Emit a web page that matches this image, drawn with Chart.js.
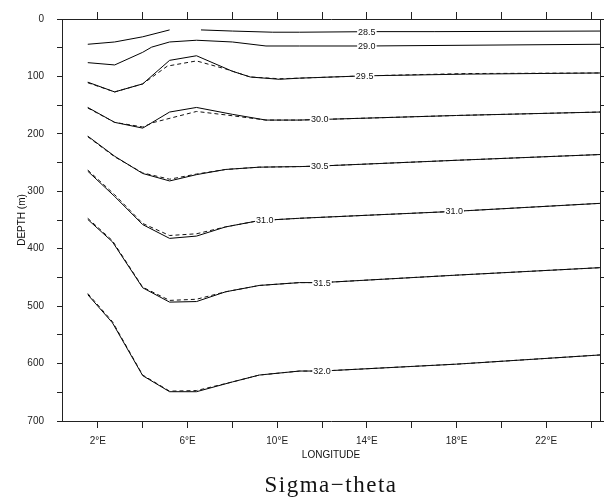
<!DOCTYPE html>
<html>
<head>
<meta charset="utf-8">
<title>Sigma-theta section</title>
<script src="https://cdn.jsdelivr.net/npm/chart.js@4/dist/chart.umd.min.js"></script>
<style>
  html, body { margin: 0; padding: 0; background: #fff; }
  #wrap { width: 604px; height: 497px; }
</style>
</head>
<body>
<div id="wrap"><canvas id="sigmaChart" width="604" height="497"></canvas></div>
<script>
// sigma-theta isopycnals: longitude (deg E) vs depth (m)
const lon285 = [1.55, 2.75, 4.0, 5.2, 5.9, 6.6, 8.0, 9.8, 11.0, 14.3, 17.0, 24.4];
const dep285 = [44, 40, 31, 19, null, 19, 21, 23, 23, 22, 22, 21];

const lon290 = [1.55, 2.75, 4.0, 4.4, 5.2, 6.4, 8.0, 9.5, 11.0, 14.0, 24.4];
const dep290 = [76, 80, 58, 49, 40, 37, 40, 47, 47, 47, 44];

const lon295 = [1.55, 2.75, 4.0, 5.2, 6.4, 8.0, 8.8, 10.1, 11.0, 13.9, 18.4, 24.4];
const dep295 = [110, 127, 113, 72, 64, 91, 101, 105, 103, 99, 96, 94];
const lon295d = [1.55, 2.75, 4.0, 5.1, 6.4, 7.7, 8.8, 10.1, 11.0, 13.9, 18.4, 24.4];
const dep295d = [111, 127, 113, 82, 73, 87, 101, 104, 103, 99, 95, 94];

const lon300 = [1.55, 2.75, 4.0, 5.2, 6.4, 8.0, 9.5, 11.0, 11.9, 18.0, 24.4];
const dep300 = [154, 180, 190, 162, 154, 166, 176, 176, 175, 168, 162];
const lon300d = [1.55, 2.75, 4.0, 4.5, 6.4, 7.7, 9.5, 11.0, 11.9, 18.0, 24.4];
const dep300d = [155, 180, 188, 180, 161, 167, 176, 176, 175, 168, 162];

const lon305 = [1.55, 2.75, 4.0, 5.2, 6.4, 7.7, 9.2, 11.0, 11.9, 18.0, 24.4];
const dep305 = [204, 239, 269, 282, 271, 262, 258, 257, 256, 246, 236];
const dep305d = [205, 240, 268, 279, 270, 262, 258, 257, 256, 246, 236];

const lon310 = [1.55, 2.75, 4.0, 5.2, 6.4, 7.7, 9.2, 11.0, 17.9, 24.4];
const dep310 = [265, 309, 358, 382, 378, 362, 351, 347, 335, 321];
const dep310d = [263, 306, 356, 377, 374, 362, 351, 347, 335, 321];

const lon315 = [1.55, 2.65, 4.0, 5.2, 6.4, 7.7, 9.2, 11.0, 12.0, 18.0, 24.4];
const dep315 = [349, 388, 468, 493, 492, 475, 464, 459, 459, 446, 433];
const dep315d = [347, 386, 467, 490, 488, 475, 464, 459, 459, 446, 433];

const lon320 = [1.55, 2.65, 4.0, 5.2, 6.4, 8.0, 9.2, 11.0, 12.0, 18.0, 24.4];
const dep320 = [480, 529, 621, 649, 649, 632, 620, 613, 613, 601, 585];
const dep320d = [478, 527, 620, 648, 647, 632, 620, 613, 613, 601, 585];

// contour labels: text, which solid line, where along it
const labelText = ['28.5', '29.0', '29.5', '30.0', '30.5', '31.0', '31.0', '31.5', '32.0'];
const labelLine = [0, 1, 2, 3, 4, 5, 5, 6, 7];
const labelLon = [14.0, 14.0, 13.9, 11.9, 11.9, 9.45, 17.9, 12.0, 12.0];

const lonTicks = [2, 4, 6, 8, 10, 12, 14, 16, 18, 20, 22, 24];
const lonLabelled = [2, 6, 10, 14, 18, 22];
const depthTicks = [0, 50, 100, 150, 200, 250, 300, 350, 400, 450, 500, 550, 600, 650, 700];

const pts = (xs, ys) => xs.map((x, i) => ({ x: x, y: ys[i] }));

const solid = [
    pts(lon285, dep285), pts(lon290, dep290), pts(lon295, dep295), pts(lon300, dep300),
    pts(lon305, dep305), pts(lon310, dep310), pts(lon315, dep315), pts(lon320, dep320)
];
const dashed = [
    pts(lon295d, dep295d), pts(lon300d, dep300d), pts(lon305, dep305d),
    pts(lon310, dep310d), pts(lon315, dep315d), pts(lon320, dep320d)
];

const datasets = [];
dashed.forEach(d => datasets.push({
    data: d, borderColor: '#111', borderWidth: 1, borderDash: [4, 3],
    pointRadius: 0, tension: 0, fill: false, spanGaps: false
}));
solid.forEach(d => datasets.push({
    data: d, borderColor: '#000', borderWidth: 1,
    pointRadius: 0, tension: 0, fill: false, spanGaps: false
}));

const tickFont = { family: '"Liberation Sans", Arial, sans-serif', size: 10 };

// depth on a line at a given longitude (for placing the labels)
function depthAt(line, lon) {
    for (let i = 0; i < line.length - 1; i++) {
        const a = line[i], b = line[i + 1];
        if (a.y == null || b.y == null) continue;
        if (lon >= a.x && lon <= b.x) {
            return a.y + (b.y - a.y) * (lon - a.x) / (b.x - a.x);
        }
    }
    return null;
}

const contourLabels = {
    id: 'contourLabels',
    afterDatasetsDraw(chart) {
        const { ctx, scales: { x, y } } = chart;
        ctx.save();
        ctx.font = '9px "Liberation Sans", Arial, sans-serif';
        ctx.textAlign = 'center';
        ctx.textBaseline = 'middle';
        labelText.forEach((txt, i) => {
            const d = depthAt(solid[labelLine[i]], labelLon[i]);
            if (d == null) return;
            const px = x.getPixelForValue(labelLon[i]);
            const py = y.getPixelForValue(d);
            const w = ctx.measureText(txt).width + 2;
            ctx.fillStyle = '#fff';
            ctx.fillRect(px - w / 2, py - 4, w, 8);
            ctx.fillStyle = '#111';
            ctx.fillText(txt, px, py + 0.5);
        });
        ctx.restore();
    }
};

const captions = {
    id: 'captions',
    afterDraw(chart) {
        const { ctx, chartArea } = chart;
        const cx = (chartArea.left + chartArea.right) / 2;
        ctx.save();
        ctx.fillStyle = '#111';
        ctx.textAlign = 'center';
        ctx.textBaseline = 'middle';
        ctx.font = '10px "Liberation Sans", Arial, sans-serif';
        ctx.fillText('LONGITUDE', cx, 455);

        ctx.save();
        ctx.translate(22, (chartArea.top + chartArea.bottom) / 2);
        ctx.rotate(-Math.PI / 2);
        ctx.fillText('DEPTH (m)', 0, 0);
        ctx.restore();

        ctx.font = '23px "Liberation Serif", "DejaVu Serif", serif';
        ctx.letterSpacing = '1.5px';
        ctx.textBaseline = 'alphabetic';
        ctx.fillText('Sigma\u2212theta', cx, 492);
        ctx.restore();
    }
};

new Chart(document.getElementById('sigmaChart'), {
    type: 'line',
    data: { datasets: datasets },
    options: {
        responsive: false,
        animation: false,
        layout: { padding: 0 },
        plugins: {
            legend: { display: false },
            tooltip: { enabled: false }
        },
        scales: {
            x: {
                type: 'linear',
                position: 'bottom',
                min: 0.4,
                max: 24.4,
                afterBuildTicks: s => { s.ticks = lonTicks.map(v => ({ value: v })); },
                afterFit: s => { s.height = 76; },
                ticks: {
                    autoSkip: false,
                    maxRotation: 0,
                    padding: 7,
                    color: '#222',
                    font: tickFont,
                    callback: v => lonLabelled.includes(v) ? v + '°E' : ''
                },
                grid: { drawOnChartArea: false, tickLength: 7, color: '#222' },
                border: { color: '#222' }
            },
            xTop: {
                type: 'linear',
                position: 'top',
                min: 0.4,
                max: 24.4,
                afterBuildTicks: s => { s.ticks = lonTicks.map(v => ({ value: v })); },
                afterFit: s => { s.height = 19; },
                ticks: { display: false },
                grid: { drawOnChartArea: false, tickLength: 7, color: '#222' },
                border: { color: '#222' }
            },
            y: {
                type: 'linear',
                position: 'left',
                reverse: true,
                min: 0,
                max: 700,
                afterBuildTicks: s => { s.ticks = depthTicks.map(v => ({ value: v })); },
                afterFit: s => { s.width = 62; },
                ticks: {
                    autoSkip: false,
                    padding: 13,
                    color: '#222',
                    font: tickFont,
                    callback: v => v % 100 === 0 ? v : ''
                },
                grid: { drawOnChartArea: false, tickLength: 5, color: '#222' },
                border: { color: '#222' }
            },
            yRight: {
                type: 'linear',
                position: 'right',
                reverse: true,
                min: 0,
                max: 700,
                afterBuildTicks: s => { s.ticks = depthTicks.map(v => ({ value: v })); },
                afterFit: s => { s.width = 4; },
                ticks: { display: false },
                grid: { drawOnChartArea: false, tickLength: 4, color: '#222' },
                border: { color: '#222' }
            }
        }
    },
    plugins: [contourLabels, captions]
});
</script>
</body>
</html>
